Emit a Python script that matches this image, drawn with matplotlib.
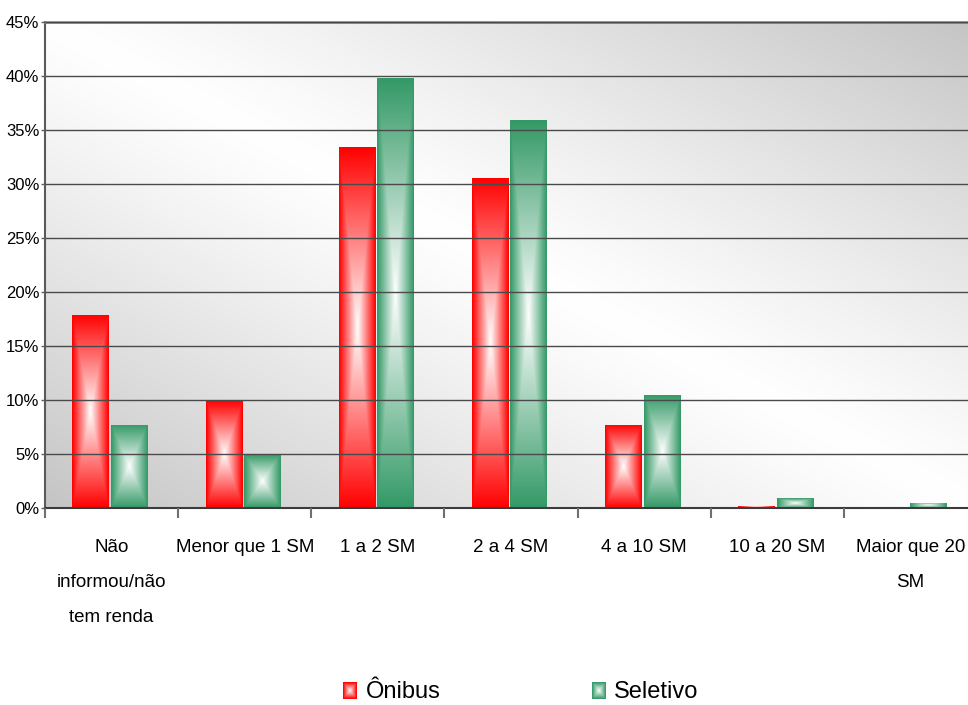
import numpy as np
import matplotlib.pyplot as plt
from matplotlib import font_manager
from matplotlib.colors import to_rgb
from matplotlib.ticker import FixedLocator, FuncFormatter, NullFormatter

# Renda familiar dos usuarios, por tipo de transporte (%)
categorias = ["Não\ninformou/não\ntem renda", "Menor que 1 SM", "1 a 2 SM", "2 a 4 SM",
              "4 a 10 SM", "10 a 20 SM", "Maior que 20\nSM"]
onibus = [17.9, 10.0, 33.4, 30.6, 7.7, 0.2, 0.0]
seletivo = [7.7, 5.0, 39.8, 35.9, 10.5, 0.9, 0.5]
series = ["Ônibus", "Seletivo"]
cores = ["#ff0000", "#339966"]
y_ticks = [0, 5, 10, 15, 20, 25, 30, 35, 40, 45]


def fonte(nome, reserva):
    try:
        font_manager.findfont(font_manager.FontProperties(family=nome),
                              fallback_to_default=False)
        return nome
    except ValueError:
        return reserva


familia = fonte("Liberation Sans Narrow", "Liberation Sans")
estreita = familia == "Liberation Sans Narrow"
tam_y = 13.5 if estreita else 12
tam_x = 16.5 if estreita else 13.5
tam_leg = 20 if estreita else 17
plt.rcParams["font.family"] = [familia, "DejaVu Sans"]


# gradiente retangular: branco no centro, cor nas bordas
def gradiente(cor, nx=60, ny=300):
    c = np.array(to_rgb(cor))
    X, Y = np.meshgrid(np.linspace(-1, 1, nx), np.linspace(-1, 1, ny))
    t = np.maximum(np.abs(X), np.abs(Y))
    return 1 - t[..., None] * (1 - c)


fig = plt.figure(figsize=(9.68, 7.05), dpi=100)
ax = fig.add_axes([45 / 968, 197 / 705, 932 / 968, 486 / 705])

# fundo da area de plotagem: faixa clara na diagonal
U, V = np.meshgrid(np.linspace(0, 1, 400), np.linspace(0, 1, 400))
t = np.abs(U + V - 1) ** 1.15
fundo = 1 - t * (1 - 0.77)
ax.imshow(np.dstack([fundo] * 3), extent=[0, 1, 0, 1], origin="lower",
          transform=ax.transAxes, aspect="auto", interpolation="bilinear", zorder=0)

x = np.arange(len(categorias))
w = 1 / 3.5
folga = 0.004
for valores, cor, desloc in [(onibus, cores[0], -w / 2 - 0.012), (seletivo, cores[1], w / 2 - 0.008)]:
    barras = ax.bar(x + desloc, valores, width=w - 2 * folga, facecolor="none",
                    linewidth=0, zorder=2)
    for b in barras:
        if b.get_height() <= 0:
            continue
        x0, y0 = b.get_x(), b.get_y()
        im = ax.imshow(gradiente(cor), extent=[x0, x0 + b.get_width(), y0, y0 + b.get_height()],
                       aspect="auto", interpolation="bilinear", zorder=2)
        im.set_clip_path(b)

ax.set_xlim(-0.5, len(categorias) - 0.5)
ax.set_ylim(0, 45)

ax.yaxis.set_major_locator(FixedLocator(y_ticks))
ax.yaxis.set_major_formatter(FuncFormatter(lambda v, p: f"{v:.0f}%"))
ax.grid(axis="y", color="#4a4a4a", linewidth=1.0, zorder=1)
ax.set_axisbelow(False)
for gl in ax.get_ygridlines():
    gl.set_zorder(1)

ax.xaxis.set_major_locator(FixedLocator(np.arange(-0.5, len(categorias), 1)))
ax.xaxis.set_major_formatter(NullFormatter())
ax.xaxis.set_minor_locator(FixedLocator(x))
ax.set_xticklabels(categorias, minor=True, fontsize=tam_x, linespacing=2.4)
ax.tick_params(axis="x", which="major", length=7, width=1.5, color="#707070", direction="out")
ax.tick_params(axis="x", which="minor", length=0, pad=22)
ax.tick_params(axis="y", length=3, width=1, color="#606060", pad=1, labelsize=tam_y)

ax.spines["top"].set_color("#8a8a8a")
ax.spines["top"].set_linewidth(2)
ax.spines["left"].set_color("#5a5a5a")
ax.spines["left"].set_linewidth(1.5)
ax.spines["bottom"].set_color("#3a3a3a")
ax.spines["bottom"].set_linewidth(1.5)
ax.spines["right"].set_visible(False)

# legenda
for nome, cor, xm, xt in [(series[0], cores[0], 343, 366), (series[1], cores[1], 592, 614)]:
    m = fig.add_axes([xm / 968, 6 / 705, 14 / 968, 17 / 705])
    m.imshow(gradiente(cor, 20, 24), aspect="auto", interpolation="bilinear")
    m.set_axis_off()
    fig.text(xt / 968, 2 / 705, nome, fontsize=tam_leg, va="bottom", ha="left")

fig.savefig("out.png", dpi=100)
